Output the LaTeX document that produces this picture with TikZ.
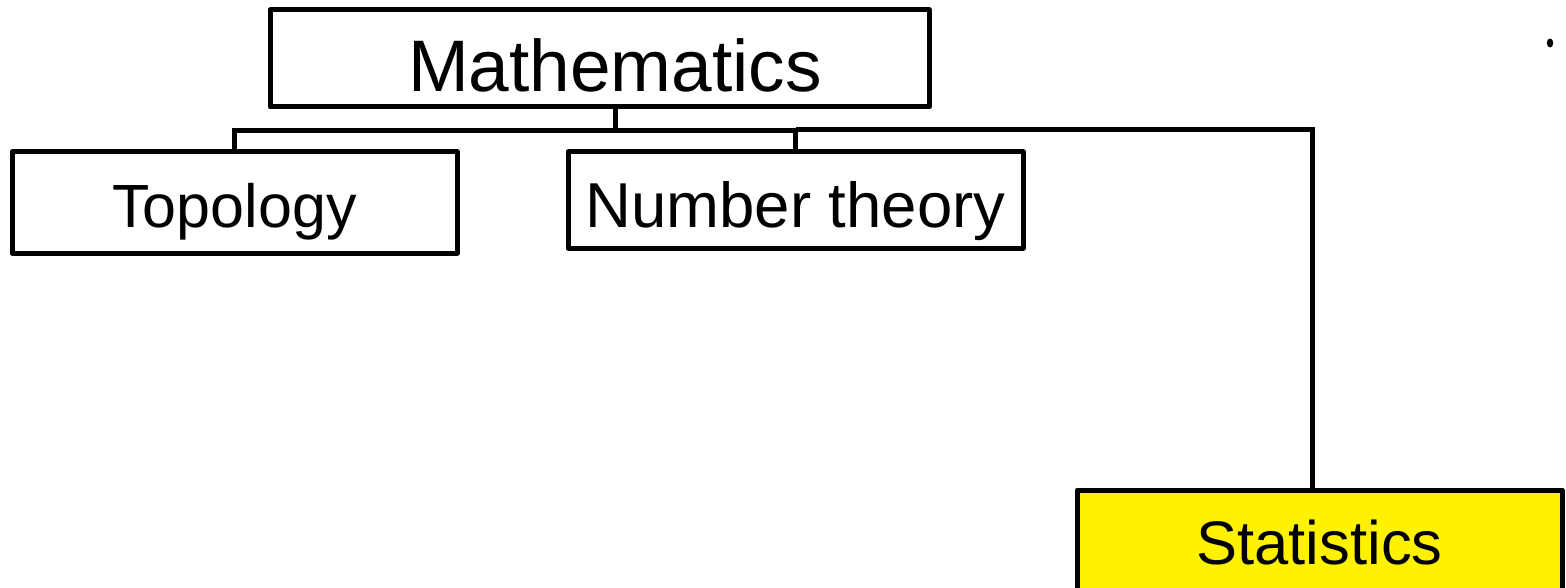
\documentclass[tikz,border=0pt]{standalone}
\usepackage{fontspec}
\setmainfont{Liberation Sans}
\usetikzlibrary{shapes.geometric}
\begin{document}
\begin{tikzpicture}[x=1pt,y=-1pt,
  box/.style={draw=black,line width=5pt,line join=round,rectangle,inner sep=0pt,text depth=0pt},
  conn/.style={draw=black,line width=5pt}]
\useasboundingbox (0,0) rectangle (1566,588);
\node[box,minimum width=659pt,minimum height=97pt,text height=67pt,
  font=\fontsize{73}{80}\selectfont] (math) at (599.5,58.5) {\hspace{31pt}Mathematics};
\node[box,minimum width=445pt,minimum height=101pt,text height=51pt,
  font=\fontsize{61}{70}\selectfont] (topo) at (234.5,202.5) {Topology};
\node[box,minimum width=455pt,minimum height=96pt,text height=56pt,
  font=\fontsize{63.5}{70}\selectfont] (nt) at (795.5,200) {Number theory};
\node[box,fill=yellow,minimum width=485pt,minimum height=105pt,text height=44pt,
  font=\fontsize{61.5}{70}\selectfont] (stat) at (1319.5,542.5) {Statistics};
\coordinate (busL) at (235,131);
\coordinate (busR) at (1312,130);
\draw[conn] (math.south -| 615,0) -- (busL -| 615,0);
\draw[conn] (topo.north) -- (topo.north |- busL) -- (nt.north |- busL) -- (nt.north);
\draw[conn] (nt.north |- busR) -- (busR) -- (busR |- stat.north);
\node[fill=black,ellipse,inner sep=0pt,minimum width=6.5pt,minimum height=9pt] (dot) at (1550,43) {};
\end{tikzpicture}
\end{document}
